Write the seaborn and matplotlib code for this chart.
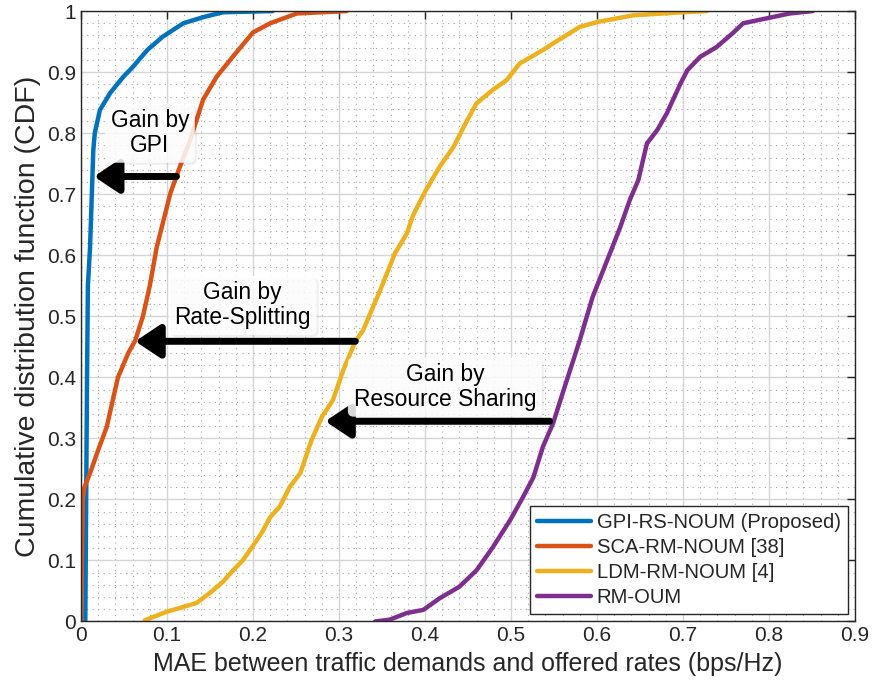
import matplotlib
matplotlib.use("Agg")
import matplotlib.pyplot as plt
import matplotlib.ticker as mticker
import matplotlib.patheffects as pe
import numpy as np
import pandas as pd
import seaborn as sns

# ─── Data ─────────────────────────────────────────────────────────────────────
gpi_x = [0.005, 0.006, 0.007, 0.008, 0.0105, 0.0143, 0.016, 0.022, 0.034, 0.049,
         0.06, 0.077, 0.095, 0.119, 0.142, 0.165, 0.223]
gpi_y = [0.0, 0.2, 0.4, 0.55, 0.613, 0.772, 0.80, 0.838, 0.866, 0.892,
         0.908, 0.936, 0.958, 0.98, 0.99, 0.998, 1.0]

sca_x = [0.0, 0.001, 0.002, 0.004, 0.0105, 0.02, 0.03, 0.037, 0.043, 0.055, 0.063,
         0.072, 0.08, 0.088, 0.104, 0.115, 0.127, 0.142, 0.158, 0.177, 0.2, 0.22,
         0.251, 0.309]
sca_y = [0.0, 0.1, 0.2, 0.22, 0.243, 0.281, 0.319, 0.363, 0.40, 0.44, 0.46,
         0.50, 0.55, 0.613, 0.702, 0.745, 0.789, 0.855, 0.893, 0.926, 0.965, 0.98,
         0.996, 1.0]

ldm_x = [0.074, 0.0997, 0.134, 0.15, 0.165, 0.177, 0.188, 0.199, 0.21, 0.22, 0.231,
         0.243, 0.255, 0.268, 0.28, 0.293, 0.305, 0.319, 0.328, 0.338, 0.348, 0.365,
         0.379, 0.386, 0.400, 0.417, 0.433, 0.449, 0.46, 0.479, 0.495, 0.51, 0.537,
         0.55, 0.58, 0.6, 0.642, 0.7, 0.728]
ldm_y = [0.002, 0.016, 0.03, 0.047, 0.065, 0.084, 0.1, 0.122, 0.145, 0.171, 0.188,
         0.221, 0.243, 0.297, 0.335, 0.363, 0.412, 0.459, 0.477, 0.51, 0.543, 0.603,
         0.636, 0.665, 0.704, 0.745, 0.777, 0.821, 0.849, 0.871, 0.887, 0.914, 0.936,
         0.948, 0.974, 0.982, 0.993, 0.998, 1.0]

oum_x = [0.342, 0.359, 0.379, 0.398, 0.417, 0.44, 0.46, 0.479, 0.499, 0.514, 0.526,
         0.537, 0.549, 0.56, 0.58, 0.595, 0.615, 0.627, 0.638, 0.648, 0.658, 0.67,
         0.681, 0.697, 0.705, 0.72, 0.739, 0.758, 0.77, 0.797, 0.824, 0.851]
oum_y = [0.0, 0.003, 0.014, 0.019, 0.038, 0.057, 0.084, 0.122, 0.166, 0.204, 0.236,
         0.286, 0.325, 0.374, 0.461, 0.532, 0.603, 0.646, 0.69, 0.723, 0.783, 0.805,
         0.832, 0.881, 0.903, 0.925, 0.941, 0.964, 0.98, 0.988, 0.996, 1.0]

labels = ["GPI-RS-NOUM (Proposed)", "SCA-RM-NOUM [38]", "LDM-RM-NOUM [4]", "RM-OUM"]
colors = ["#0072BD", "#D95319", "#EDB120", "#7E2F8E"]

x_ticks = [0, 0.1, 0.2, 0.3, 0.4, 0.5, 0.6, 0.7, 0.8, 0.9]
y_ticks = [0, 0.1, 0.2, 0.3, 0.4, 0.5, 0.6, 0.7, 0.8, 0.9, 1.0]

# annotations: (text, text pos, arrow tail, arrow tip)
gains = [
    ("Gain by\nGPI", (0.080, 0.800), (0.111, 0.729), (0.015, 0.729)),
    ("Gain by\nRate-Splitting", (0.188, 0.518), (0.319, 0.459), (0.063, 0.459)),
    ("Gain by\nResource Sharing", (0.423, 0.384), (0.545, 0.328), (0.284, 0.328)),
]

# ─── Build long table ─────────────────────────────────────────────────────────
frames = []
for lab, xs, ys in zip(labels, [gpi_x, sca_x, ldm_x, oum_x], [gpi_y, sca_y, ldm_y, oum_y]):
    frames.append(pd.DataFrame({"mae": xs, "cdf": ys, "scheme": lab}))
df = pd.concat(frames, ignore_index=True)

# ─── Plot ─────────────────────────────────────────────────────────────────────
sns.set_style("white")
plt.rcParams["font.family"] = ["Liberation Sans", "DejaVu Sans"]

fig = plt.figure(figsize=(8.73, 6.91), dpi=100)
ax = fig.add_axes([0.0928, 0.1006, 0.8866, 0.8834])

sns.lineplot(data=df, x="mae", y="cdf", hue="scheme", hue_order=labels,
             palette=colors, sort=False, estimator=None, lw=3.2, ax=ax)

ax.set_xlim(0, 0.9)
ax.set_ylim(0, 1)
ax.set_xticks(x_ticks)
ax.set_yticks(y_ticks)
ax.set_xticklabels(["0" if t == 0 else f"{t:g}" for t in x_ticks])
ax.set_yticklabels(["0" if t == 0 else f"{t:g}" for t in y_ticks])
ax.xaxis.set_minor_locator(mticker.MultipleLocator(0.02))
ax.yaxis.set_minor_locator(mticker.MultipleLocator(0.02))

ax.grid(True, which="major", color="#d6d6d6", lw=1.0, ls="-")
ax.grid(True, which="minor", color="#a8a8a8", lw=0.8, ls=(0, (1, 4)))
ax.set_axisbelow(True)

ax.tick_params(which="major", direction="in", length=6, width=1.0, colors="#262626",
               top=True, right=True, labelsize=15)
ax.tick_params(which="minor", length=0)
for sp in ax.spines.values():
    sp.set_color("#262626")
    sp.set_linewidth(1.0)

ax.set_xlabel("MAE between traffic demands and offered rates (bps/Hz)", fontsize=18,
              color="#262626", labelpad=5)
ax.set_ylabel("Cumulative distribution function (CDF)", fontsize=20.5,
              color="#262626", labelpad=4)

for txt, tpos, tail, tip in gains:
    ax.annotate("", xy=tip, xytext=tail,
                arrowprops=dict(arrowstyle="-|>,head_length=0.75,head_width=0.5",
                                lw=5, color="black", shrinkA=0, shrinkB=0,
                                mutation_scale=20))
    t = ax.text(tpos[0], tpos[1], txt, ha="center", va="center", fontsize=16.4,
                color="black", linespacing=1.1,
                bbox=dict(boxstyle="round,pad=0.25", fc="white", ec="none", alpha=0.85))
    t.get_bbox_patch().set_path_effects(
        [pe.withSimplePatchShadow(offset=(1.5, -1.5), shadow_rgbFace="#000000", alpha=0.06)])

leg = ax.legend(loc="lower right", fontsize=14.6, frameon=True, fancybox=False,
                handlelength=2.65, handletextpad=0.3, borderpad=0.35,
                labelspacing=0.3, borderaxespad=0.35)
leg.get_frame().set_edgecolor("#262626")
leg.get_frame().set_linewidth(1.0)
leg.get_frame().set_alpha(1)
for line in leg.get_lines():
    line.set_linewidth(3.2)

fig.savefig("out.png", dpi=100)
